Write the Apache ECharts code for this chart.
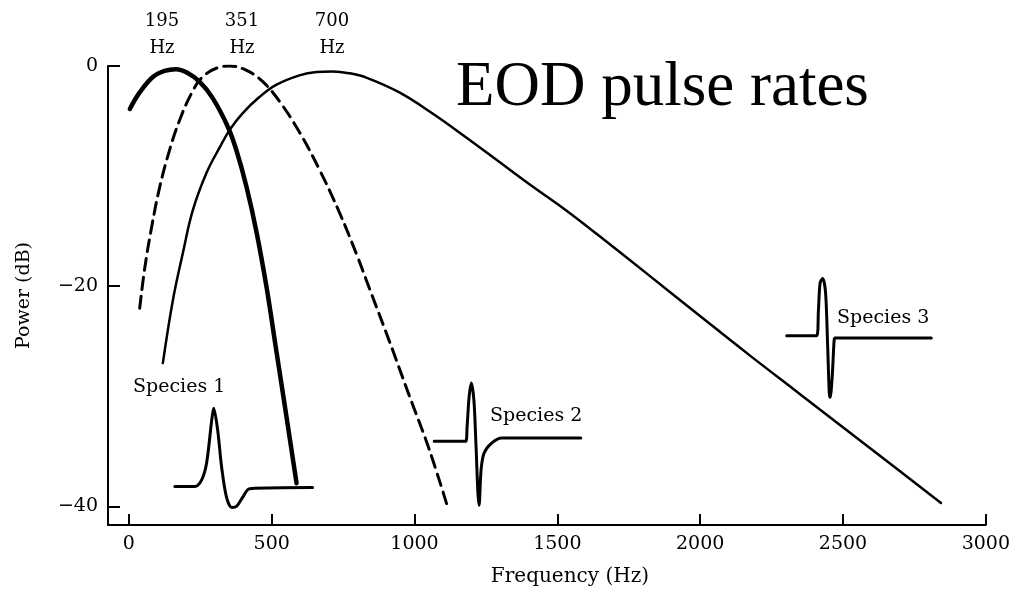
<!DOCTYPE html>
<html>
<head>
<meta charset="utf-8">
<script src="https://cdn.jsdelivr.net/npm/echarts@6/dist/echarts.min.js"></script>
<style>
html,body{margin:0;padding:0;background:#fff;}
#chart{width:1013px;height:595px;}
</style>
</head>
<body>
<div id="chart"></div>
<script>
// ---- data (frequency in Hz, power in dB) ----
var xTicks = [0, 500, 1000, 1500, 2000, 2500, 3000];
var yTicks = [0, -20, -40];

var species1Spectrum = [[3.5,-3.9],[38,-2.4],[84,-1.0],[125,-0.45],[165,-0.3],[203,-0.6],[248,-1.45],[293,-2.9],[346,-5.5],[377,-7.7],[412,-11],[447,-15.1],[482,-20.1],[517,-26.0],[552,-31.9],[587,-37.9]];
var species2Spectrum = [[38,-22],[56,-18.3],[80,-14.6],[108,-11],[143,-7.6],[178,-4.9],[220,-2.45],[258,-1.0],[318,-0.1],[353,0],[412,-0.4],[468,-1.4],[527,-3.2],[597,-6.0],[667,-9.4],[737,-13.3],[800,-17.3],[842,-20.2],[912,-25.0],[981,-29.9],[1051,-34.8],[1114,-39.9]];
var species3Spectrum = [[119,-27],[154,-21.3],[189,-17],[224,-13.1],[272,-9.7],[318,-7.4],[353,-5.8],[398,-4.3],[458,-2.8],[517,-1.7],[597,-0.85],[657,-0.55],[713,-0.5],[770,-0.65],[831,-1.05],[947,-2.4],[1062,-4.3],[1181,-6.5],[1296,-8.7],[1411,-10.9],[1530,-13.1],[1645,-15.4],[1820,-19.0],[1994,-22.6],[2169,-26.2],[2344,-29.7],[2519,-33.2],[2694,-36.7],[2843,-39.7]];

var species1Pulse = [[161,-38.2],[231,-38.2],[255,-37.6],[272,-36.1],[290,-32.2],[297,-31.1],[311,-33.1],[325,-36.5],[342,-39.2],[360,-40.1],[377,-40],[398,-39.2],[423,-38.4],[643,-38.3]];
var species2Pulse = [[1069,-34.1],[1179,-34.1],[1184,-32.8],[1191,-30.1],[1199,-28.8],[1208,-30.4],[1215,-34.3],[1222,-38.8],[1226,-39.9],[1233,-36.7],[1243,-35.2],[1268,-34.3],[1306,-33.8],[1582,-33.8]];
var species3Pulse = [[2303,-24.5],[2408,-24.5],[2414,-22.2],[2420,-19.7],[2429,-19.3],[2439,-20.6],[2446,-25.2],[2452,-29.7],[2455,-30.1],[2462,-28.3],[2469,-24.9],[2472,-24.7],[2809,-24.7]];

var peakLabels = ['195\nHz', '351\nHz', '700\nHz'];
var speciesLabels = ['Species 1', 'Species 2', 'Species 3'];
var titleText = 'EOD pulse rates';

// ---- chart ----
var SERIF = '"DejaVu Serif", serif';
var chart = echarts.init(document.getElementById('chart'), null, {renderer: 'canvas'});

function lineSeries(data, width, type, smooth) {
  return {
    type: 'line', data: data, symbol: 'none', smooth: smooth,
    silent: true, animation: false,
    lineStyle: {color: '#000', width: width, type: type, cap: 'round', join: 'round'}
  };
}

var option = {
  backgroundColor: '#fff',
  animation: false,
  grid: {left: 108, right: 25, top: 66, bottom: 70},
  xAxis: {
    type: 'value', min: -73, max: 3000,
    splitLine: {show: false},
    axisLine: {show: true, onZero: false, lineStyle: {color: '#000', width: 2}},
    axisTick: {show: true, inside: true, length: 11, customValues: xTicks, lineStyle: {color: '#000', width: 2}},
    axisLabel: {customValues: xTicks, color: '#000', fontFamily: SERIF, fontSize: 19, margin: 10,
      formatter: function (v) { return String(v); }},
    name: 'Frequency (Hz)', nameLocation: 'middle', nameGap: 42,
    nameTextStyle: {color: '#000', fontFamily: SERIF, fontSize: 20, padding: [0, 0, 0, 46]}
  },
  yAxis: {
    type: 'value', min: -41.7, max: 0,
    splitLine: {show: false},
    axisLine: {show: true, onZero: false, lineStyle: {color: '#000', width: 2}},
    axisTick: {show: true, inside: true, length: 12, customValues: yTicks, lineStyle: {color: '#000', width: 2}},
    axisLabel: {customValues: yTicks, color: '#000', fontFamily: SERIF, fontSize: 19, margin: 10,
      formatter: function (v) { return v < 0 ? '\u2212' + (-v) : String(v); }},
    name: 'Power (dB)', nameLocation: 'middle', nameGap: 74, nameRotate: 90,
    nameTextStyle: {color: '#000', fontFamily: SERIF, fontSize: 19}
  },
  series: [
    lineSeries(species1Spectrum, 4.5, 'solid', 0.4),
    lineSeries(species2Spectrum, 3, [12, 7], 0.4),
    lineSeries(species3Spectrum, 2.5, 'solid', 0.4),
    lineSeries(species1Pulse, 3, 'solid', 0.3),
    lineSeries(species2Pulse, 3, 'solid', 0.3),
    lineSeries(species3Pulse, 3, 'solid', 0.3)
  ],
  graphic: [
    {type: 'text', left: 456, top: 57, style: {text: titleText, font: '63px "Liberation Serif", serif', fill: '#000'}},
    {type: 'text', x: 162, y: 8, style: {text: peakLabels[0], font: '18px ' + SERIF, fill: '#000', align: 'center', lineHeight: 27}},
    {type: 'text', x: 242, y: 8, style: {text: peakLabels[1], font: '18px ' + SERIF, fill: '#000', align: 'center', lineHeight: 27}},
    {type: 'text', x: 332, y: 8, style: {text: peakLabels[2], font: '18px ' + SERIF, fill: '#000', align: 'center', lineHeight: 27}},
    {type: 'text', x: 133, y: 378, style: {text: speciesLabels[0], font: '19px ' + SERIF, fill: '#000'}},
    {type: 'text', x: 490, y: 407, style: {text: speciesLabels[1], font: '19px ' + SERIF, fill: '#000'}},
    {type: 'text', x: 837, y: 309, style: {text: speciesLabels[2], font: '19px ' + SERIF, fill: '#000'}}
  ]
};
chart.setOption(option);
</script>
</body>
</html>
